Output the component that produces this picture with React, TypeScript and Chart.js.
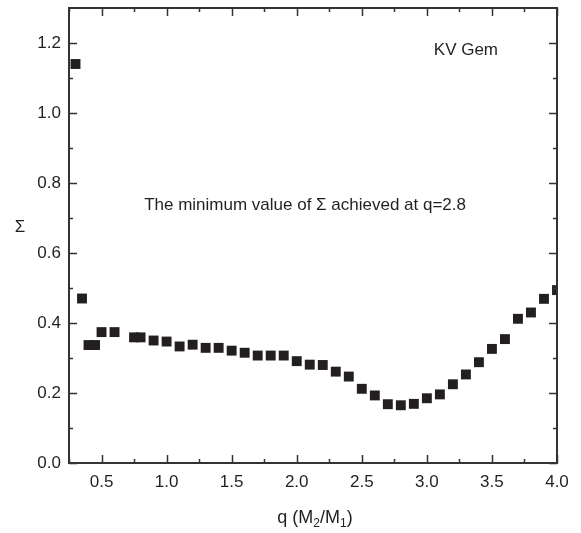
import React, { useEffect, useRef } from "react";
import { Chart, registerables } from "chart.js";

Chart.register(...registerables);

const qValues = [0.3, 0.35, 0.4, 0.45, 0.5, 0.6, 0.75, 0.8, 0.9, 1.0, 1.1, 1.2, 1.3, 1.4, 1.5, 1.6, 1.7, 1.8, 1.9, 2.0, 2.1, 2.2, 2.3, 2.4, 2.5, 2.6, 2.7, 2.8, 2.9, 3.0, 3.1, 3.2, 3.3, 3.4, 3.5, 3.6, 3.7, 3.8, 3.9, 4.0];
const sigmaValues = [1.14, 0.47, 0.337, 0.337, 0.374, 0.374, 0.359, 0.359, 0.35, 0.347, 0.333, 0.338, 0.329, 0.329, 0.321, 0.315, 0.307, 0.307, 0.307, 0.291, 0.281, 0.28, 0.261, 0.247, 0.212, 0.193, 0.168, 0.165, 0.169, 0.185, 0.196, 0.225, 0.253, 0.288, 0.326, 0.354, 0.412, 0.43, 0.469, 0.494];

const xMajorTicks = [0.5, 1.0, 1.5, 2.0, 2.5, 3.0, 3.5, 4.0];
const xMinorTicks = [0.25, 0.75, 1.25, 1.75, 2.25, 2.75, 3.25, 3.75];
const yMajorTicks = [0.0, 0.2, 0.4, 0.6, 0.8, 1.0, 1.2];
const yMinorTicks = [0.1, 0.3, 0.5, 0.7, 0.9, 1.1];

const xRange = [0.25, 4.0];
const yRange = [0, 1.3];

const starLabel = "KV Gem";
const starLabelPos = [3.3, 1.18];
const noteText = "The minimum value of \u03A3 achieved at q=2.8";
const notePos = [2.064, 0.737];
const yTitle = "\u03A3";

const FONT = '"Liberation Sans Narrow", "Liberation Sans", Arial, sans-serif';
const INK = "#231f20";
const AXIS = "#333333";

const framePlugin = {
  id: "frame",
  afterDraw(chart: any) {
    const { ctx, chartArea: a, scales } = chart;
    const xs = scales.x;
    const ys = scales.y;
    ctx.save();
    ctx.strokeStyle = AXIS;
    ctx.lineWidth = 2;
    ctx.strokeRect(a.left, a.top, a.right - a.left, a.bottom - a.top);
    ctx.lineWidth = 1.5;
    const tickX = (v: number, len: number) => {
      const px = Math.round(xs.getPixelForValue(v)) + 0.5;
      ctx.beginPath();
      ctx.moveTo(px, a.bottom);
      ctx.lineTo(px, a.bottom - len);
      ctx.moveTo(px, a.top);
      ctx.lineTo(px, a.top + len);
      ctx.stroke();
    };
    const tickY = (v: number, len: number) => {
      const py = Math.round(ys.getPixelForValue(v)) + 0.5;
      ctx.beginPath();
      ctx.moveTo(a.left, py);
      ctx.lineTo(a.left + len, py);
      ctx.moveTo(a.right, py);
      ctx.lineTo(a.right - len, py);
      ctx.stroke();
    };
    xMajorTicks.forEach((v) => tickX(v, 8));
    xMinorTicks.forEach((v) => tickX(v, 4));
    yMajorTicks.forEach((v) => tickY(v, 8));
    yMinorTicks.forEach((v) => tickY(v, 4));

    ctx.fillStyle = INK;
    ctx.textBaseline = "middle";
    ctx.textAlign = "center";
    ctx.font = `17px ${FONT}`;
    ctx.fillText(starLabel, xs.getPixelForValue(starLabelPos[0]), ys.getPixelForValue(starLabelPos[1]));
    ctx.fillText(noteText, xs.getPixelForValue(notePos[0]), ys.getPixelForValue(notePos[1]));

    ctx.font = `17px ${FONT}`;
    ctx.fillText(yTitle, 20, a.top + 219);

    // x title with subscripts
    const cx = (a.left + a.right) / 2 + 2;
    const baseY = a.bottom + 60;
    const big = `18px ${FONT}`;
    const small = `12px ${FONT}`;
    const parts: [string, boolean][] = [["q (M", false], ["2", true], ["/M", false], ["1", true], [")", false]];
    let total = 0;
    parts.forEach(([t, sub]) => {
      ctx.font = sub ? small : big;
      total += ctx.measureText(t).width;
    });
    let x = cx - total / 2;
    ctx.textAlign = "left";
    ctx.textBaseline = "alphabetic";
    parts.forEach(([t, sub]) => {
      ctx.font = sub ? small : big;
      ctx.fillText(t, x, sub ? baseY + 4 : baseY);
      x += ctx.measureText(t).width;
    });
    ctx.restore();
  },
};

export default function App() {
  const ref = useRef<HTMLCanvasElement | null>(null);
  useEffect(() => {
    if (!ref.current) return;
    const chart = new Chart(ref.current, {
      type: "scatter",
      data: {
        datasets: [
          {
            data: qValues.map((q, i) => ({ x: q, y: sigmaValues[i] })),
            pointStyle: "rect",
            pointRadius: 7,
            pointBorderWidth: 0,
            backgroundColor: INK,
            borderColor: INK,
          },
        ],
      },
      options: {
        responsive: false,
        animation: false,
        layout: { padding: { top: 8, right: 24, left: 0, bottom: 0 } },
        plugins: { legend: { display: false }, tooltip: { enabled: false } },
        scales: {
          x: {
            type: "linear",
            min: xRange[0],
            max: xRange[1],
            grid: { display: false, drawTicks: false },
            border: { display: false },
            afterBuildTicks: (s: any) => {
              s.ticks = xMajorTicks.map((v) => ({ value: v }));
            },
            afterFit: (s: any) => {
              s.height = 70;
              s.paddingLeft = 0;
              s.paddingRight = 0;
            },
            ticks: {
              padding: 9,
              color: INK,
              font: { family: FONT, size: 17 },
              callback: (v: any) => Number(v).toFixed(1),
            },
          },
          y: {
            type: "linear",
            min: yRange[0],
            max: yRange[1],
            grid: { display: false, drawTicks: false },
            border: { display: false },
            afterBuildTicks: (s: any) => {
              s.ticks = yMajorTicks.map((v) => ({ value: v }));
            },
            afterFit: (s: any) => {
              s.width = 69;
              s.paddingTop = 0;
              s.paddingBottom = 0;
            },
            ticks: {
              padding: 8,
              color: INK,
              font: { family: FONT, size: 17 },
              callback: (v: any) => Number(v).toFixed(1),
            },
          },
        },
      },
      plugins: [framePlugin],
    });
    return () => chart.destroy();
  }, []);
  return (
    <div style={{ position: "fixed", left: 0, top: 0, width: 581, height: 533, background: "#fff" }}>
      <canvas ref={ref} width={581} height={533} />
    </div>
  );
}
